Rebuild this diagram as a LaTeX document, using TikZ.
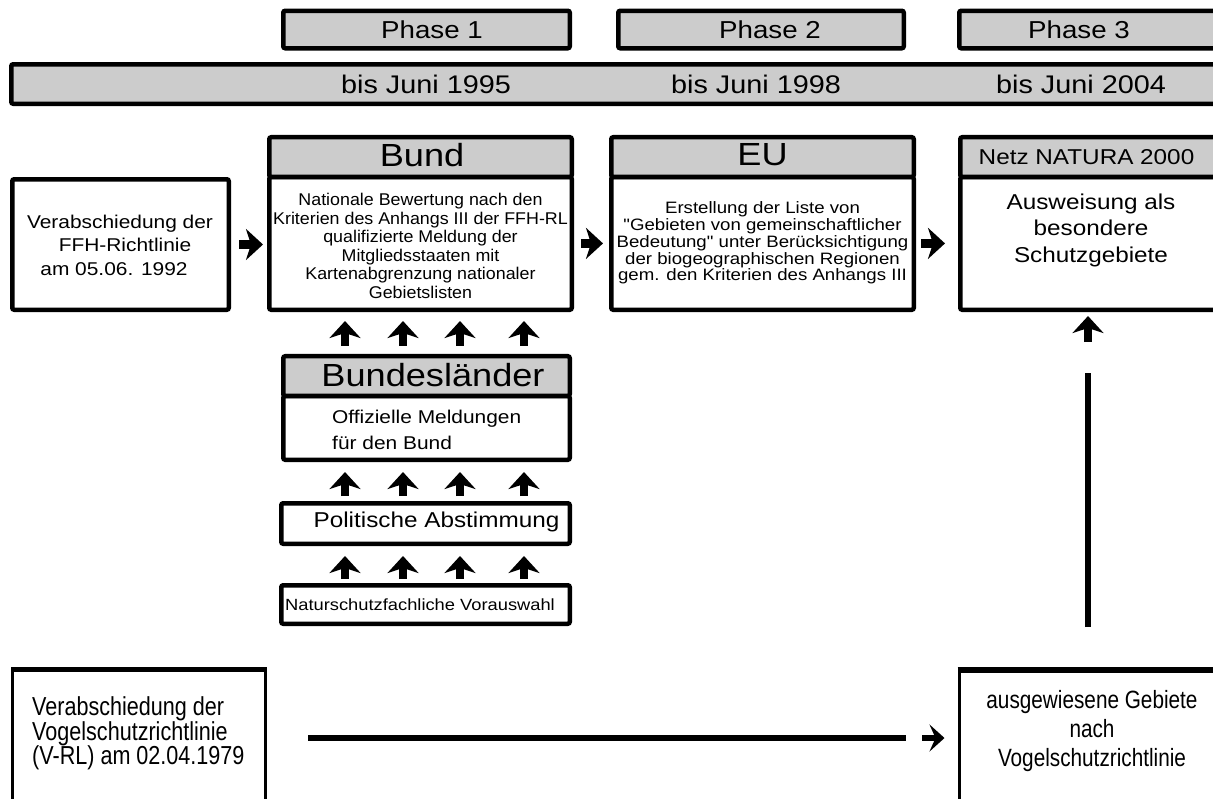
\documentclass[tikz,border=0pt]{standalone}
\usepackage{fontspec}
\setmainfont{Liberation Sans}
\newfontfamily\wf[FakeStretch=1.13]{Liberation Sans}
\newfontfamily\mf[FakeStretch=1.05]{Liberation Sans}
\newfontfamily\nf[FakeStretch=0.83]{Liberation Sans}
\usetikzlibrary{arrows.meta}
\definecolor{hdr}{RGB}{204,204,204}
\newcommand{\fsz}[2]{\fontsize{#1}{#2}\selectfont}
\begin{document}
\begin{tikzpicture}[x=1pt,y=-1pt,
  frame/.style={draw=black,line width=4.5pt,rounded corners=2pt,inner sep=0pt},
  gbox/.style={frame,fill=hdr},
  wbox/.style={frame,fill=white},
  tbox/.style={draw=black,line width=3pt,inner sep=0pt,fill=white},
  lbl/.style={inner sep=0pt,align=center,text=black},
  blk/.style={line width=8.5pt,-{Stealth[width=31pt,length=17pt,inset=5pt]}},
  nblk/.style={line width=6pt,-{Stealth[width=27pt,length=15pt,inset=6pt]}},
  heavy/.style={line width=6.5pt}]
\useasboundingbox (0,0) rectangle (1213,798);
\clip (0,0) rectangle (1213,798);
\fill[white] (0,0) rectangle (1213,798);
% phases
\node[gbox,minimum width=286.5pt,minimum height=37.5pt] (ph1) at (426.5,29.5) {};
\node[gbox,minimum width=285.5pt,minimum height=37.5pt] (ph2) at (761,29.5) {};
\node[gbox,minimum width=263.5pt,minimum height=37.5pt] (ph3) at (1091,29.5) {};
\node[lbl,font=\wf\fsz{24.5}{28}] (ph1t) at (432,30) {Phase 1};
\node[lbl,font=\wf\fsz{24.5}{28}] (ph2t) at (770,30) {Phase 2};
\node[lbl,font=\wf\fsz{24.5}{28}] (ph3t) at (1079,30) {Phase 3};
% timeline bar
\node[gbox,minimum width=1211.5pt,minimum height=39.5pt] (bar) at (617,84) {};
\node[lbl,font=\wf\fsz{25.5}{28}] (t1) at (426,84) {bis Juni 1995};
\node[lbl,font=\wf\fsz{25.5}{28}] (t2) at (756,84) {bis Juni 1998};
\node[lbl,font=\wf\fsz{25.5}{28}] (t3) at (1081,84) {bis Juni 2004};
% FFH box
\node[wbox,minimum width=216.5pt,minimum height=130.5pt] (ffh) at (120.5,244.5) {};
\node[lbl,font=\wf\fsz{18.5}{23.5}] (ffht) at (120,245) {Verabschiedung der\\\hspace*{10pt}FFH-Richtlinie\\am 05.06. 1992\hspace*{12pt}};
% Bund
\node[wbox,minimum width=302.5pt,minimum height=132.75pt] (bundB) at (420.5,243.4) {};
\node[gbox,minimum width=302.5pt,minimum height=39.75pt] (bundH) at (420.5,157.1) {};
\node[lbl,font=\wf\fsz{32}{36}] (bundHt) at (422,155) {Bund};
\node[lbl,font=\mf\fsz{17}{18.6}] (bundt) at (420.5,246) {Nationale Bewertung nach den\\Kriterien des Anhangs III der FFH-RL\\qualifizierte Meldung der\\Mitgliedsstaaten mit\\Kartenabgrenzung nationaler\\Gebietslisten};
% EU
\node[wbox,minimum width=302.5pt,minimum height=132.75pt] (euB) at (762.5,243.4) {};
\node[gbox,minimum width=302.5pt,minimum height=39.75pt] (euH) at (762.5,157.1) {};
\node[lbl,font=\wf\fsz{32}{36}] (euHt) at (762.5,155) {EU};
\node[lbl,font=\wf\fsz{16.5}{16.8}] (eut) at (762.5,243) {Erstellung der Liste von\\"Gebieten von gemeinschaftlicher\\Bedeutung" unter Berücksichtigung\\der biogeographischen Regionen\\gem. den Kriterien des Anhangs III};
% Netz
\node[wbox,minimum width=262.5pt,minimum height=132.75pt] (netzB) at (1091.5,243.4) {};
\node[gbox,minimum width=262.5pt,minimum height=39.75pt] (netzH) at (1091.5,157.1) {};
\node[lbl,font=\wf\fsz{21.5}{24}] (netzHt) at (1086.5,157) {Netz NATURA 2000};
\node[lbl,font=\wf\fsz{21.5}{26.5}] (netzt) at (1091,230) {Ausweisung als\\besondere\\Schutzgebiete};
% Bundeslaender
\node[wbox,minimum width=286.5pt,minimum height=63.75pt] (blB) at (426.5,427.9) {};
\node[gbox,minimum width=286.5pt,minimum height=39.75pt] (blH) at (426.5,376.1) {};
\node[lbl,font=\wf\fsz{32}{36}] (blHt) at (433,375) {Bundesländer};
\node[lbl,align=left,anchor=west,font=\wf\fsz{18.5}{26}] (blt) at (332,430) {Offizielle Meldungen\\für den Bund};
% Politische Abstimmung
\node[wbox,minimum width=288.5pt,minimum height=40.5pt] (pol) at (425.5,523.5) {};
\node[lbl,font=\wf\fsz{21.5}{24}] (polt) at (436.5,522) {Politische Abstimmung};
% Naturschutzfachliche Vorauswahl
\node[wbox,minimum width=288.5pt,minimum height=38.5pt] (nat) at (425.5,604.5) {};
\node[lbl,font=\wf\fsz{16.2}{18}] (natt) at (420,605) {Naturschutzfachliche Vorauswahl};
% bottom boxes
\node[tbox,minimum width=253pt,minimum height=148pt] (vrl) at (139,744.5) {};
\draw[line width=5pt] (vrl.north west) -- (vrl.north east);
\node[lbl,align=left,anchor=west,font=\nf\fsz{26}{24.5}] (vrlt) at (32,733.5) {Verabschiedung der\\Vogelschutzrichtlinie\\(V-RL) am 02.04.1979};
\node[tbox,minimum width=264pt,minimum height=148pt] (ausg) at (1091,745) {};
\draw[line width=5pt] (ausg.north west) -- (ausg.north east);
\node[lbl,font=\nf\fsz{25}{29}] (ausgt) at (1092,731) {ausgewiesene Gebiete\\nach\\Vogelschutzrichtlinie};
% horizontal arrows
\draw[blk,shorten <=8pt,shorten >=4pt] (ffh.east) -- (bundB.west |- ffh.east);
\draw[blk,shorten <=7pt,shorten >=6pt] (bundB.east) -- (euB.west);
\draw[blk,shorten <=5pt,shorten >=13pt] (euB.east) -- (netzB.west);
% up arrows
\coordinate (c1) at (345,0);
\coordinate (c2) at (403,0);
\coordinate (c3) at (460,0);
\coordinate (c4) at (524,0);
\foreach \c in {c1,c2,c3,c4}{
  \draw[blk,shorten <=8pt,shorten >=9pt] (blH.north -| \c) -- (bundB.south -| \c);
  \draw[blk,shorten <=5pt,shorten >=10pt] (pol.north -| \c) -- (blB.south -| \c);
  \draw[blk,shorten <=4pt,shorten >=10pt] (nat.north -| \c) -- (pol.south -| \c);
}
% right column
\coordinate (nz) at (1088,342);
\coordinate (nzl) at (1088,373);
\draw[blk,shorten >=4pt] (nz) -- (netzB.south -| nz);
\draw[heavy,shorten <=42.5pt] (ausg.north -| nz) -- (nzl);
% bottom line
\coordinate (hl) at (906,738);
\coordinate (ha) at (922,738);
\draw[heavy,shorten <=41pt] (vrl.east |- hl) -- (hl);
\draw[nblk,shorten >=13pt] (ha) -- (ausg.west |- ha);
\end{tikzpicture}
\end{document}
